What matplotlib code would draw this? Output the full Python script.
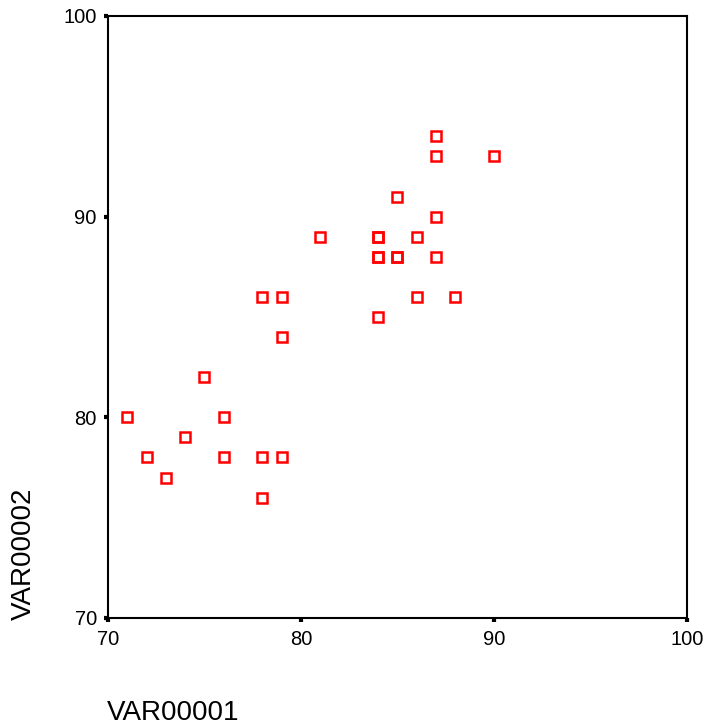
import matplotlib
matplotlib.use("Agg")
import matplotlib.pyplot as plt

# scatter data (VAR00001 vs VAR00002)
var1 = [71, 72, 73, 74, 75, 76, 76, 78, 78, 78, 79, 79, 79, 81,
        84, 84, 84, 84, 84, 85, 85, 85, 86, 86, 87, 87, 87, 87, 88, 90]
var2 = [80, 78, 77, 79, 82, 80, 78, 86, 78, 76, 86, 84, 78, 89,
        89, 89, 88, 88, 85, 91, 88, 88, 89, 86, 94, 93, 90, 88, 86, 93]

xticks = [70, 80, 90, 100]
yticks = [70, 80, 90, 100]

plt.rcParams['font.family'] = ['Liberation Sans', 'DejaVu Sans']

fig = plt.figure(figsize=(7.08, 7.25), dpi=100)
ax = fig.add_axes([0.1525, 0.1476, 0.8178, 0.8304])

ax.plot(var1, var2, linestyle="none", marker="s", markersize=7,
        markerfacecolor="none", markeredgecolor="#ff0000", markeredgewidth=1.8)

ax.set_xlim(70, 100)
ax.set_ylim(70, 100)
ax.set_xticks(xticks)
ax.set_yticks(yticks)
ax.tick_params(direction="out", length=3, width=3, labelsize=14.5, pad=5)
ax.tick_params(axis="x", pad=6)

for s in ax.spines.values():
    s.set_linewidth(1.5)

fig.text(107 / 708, 1 - 720 / 725, "VAR00001", ha="left", va="baseline", fontsize=20)
fig.text(24 / 708, 1 - 620 / 725, "VAR00002", ha="center", va="bottom",
         rotation=90, fontsize=20)

fig.savefig("out.png", dpi=100)
